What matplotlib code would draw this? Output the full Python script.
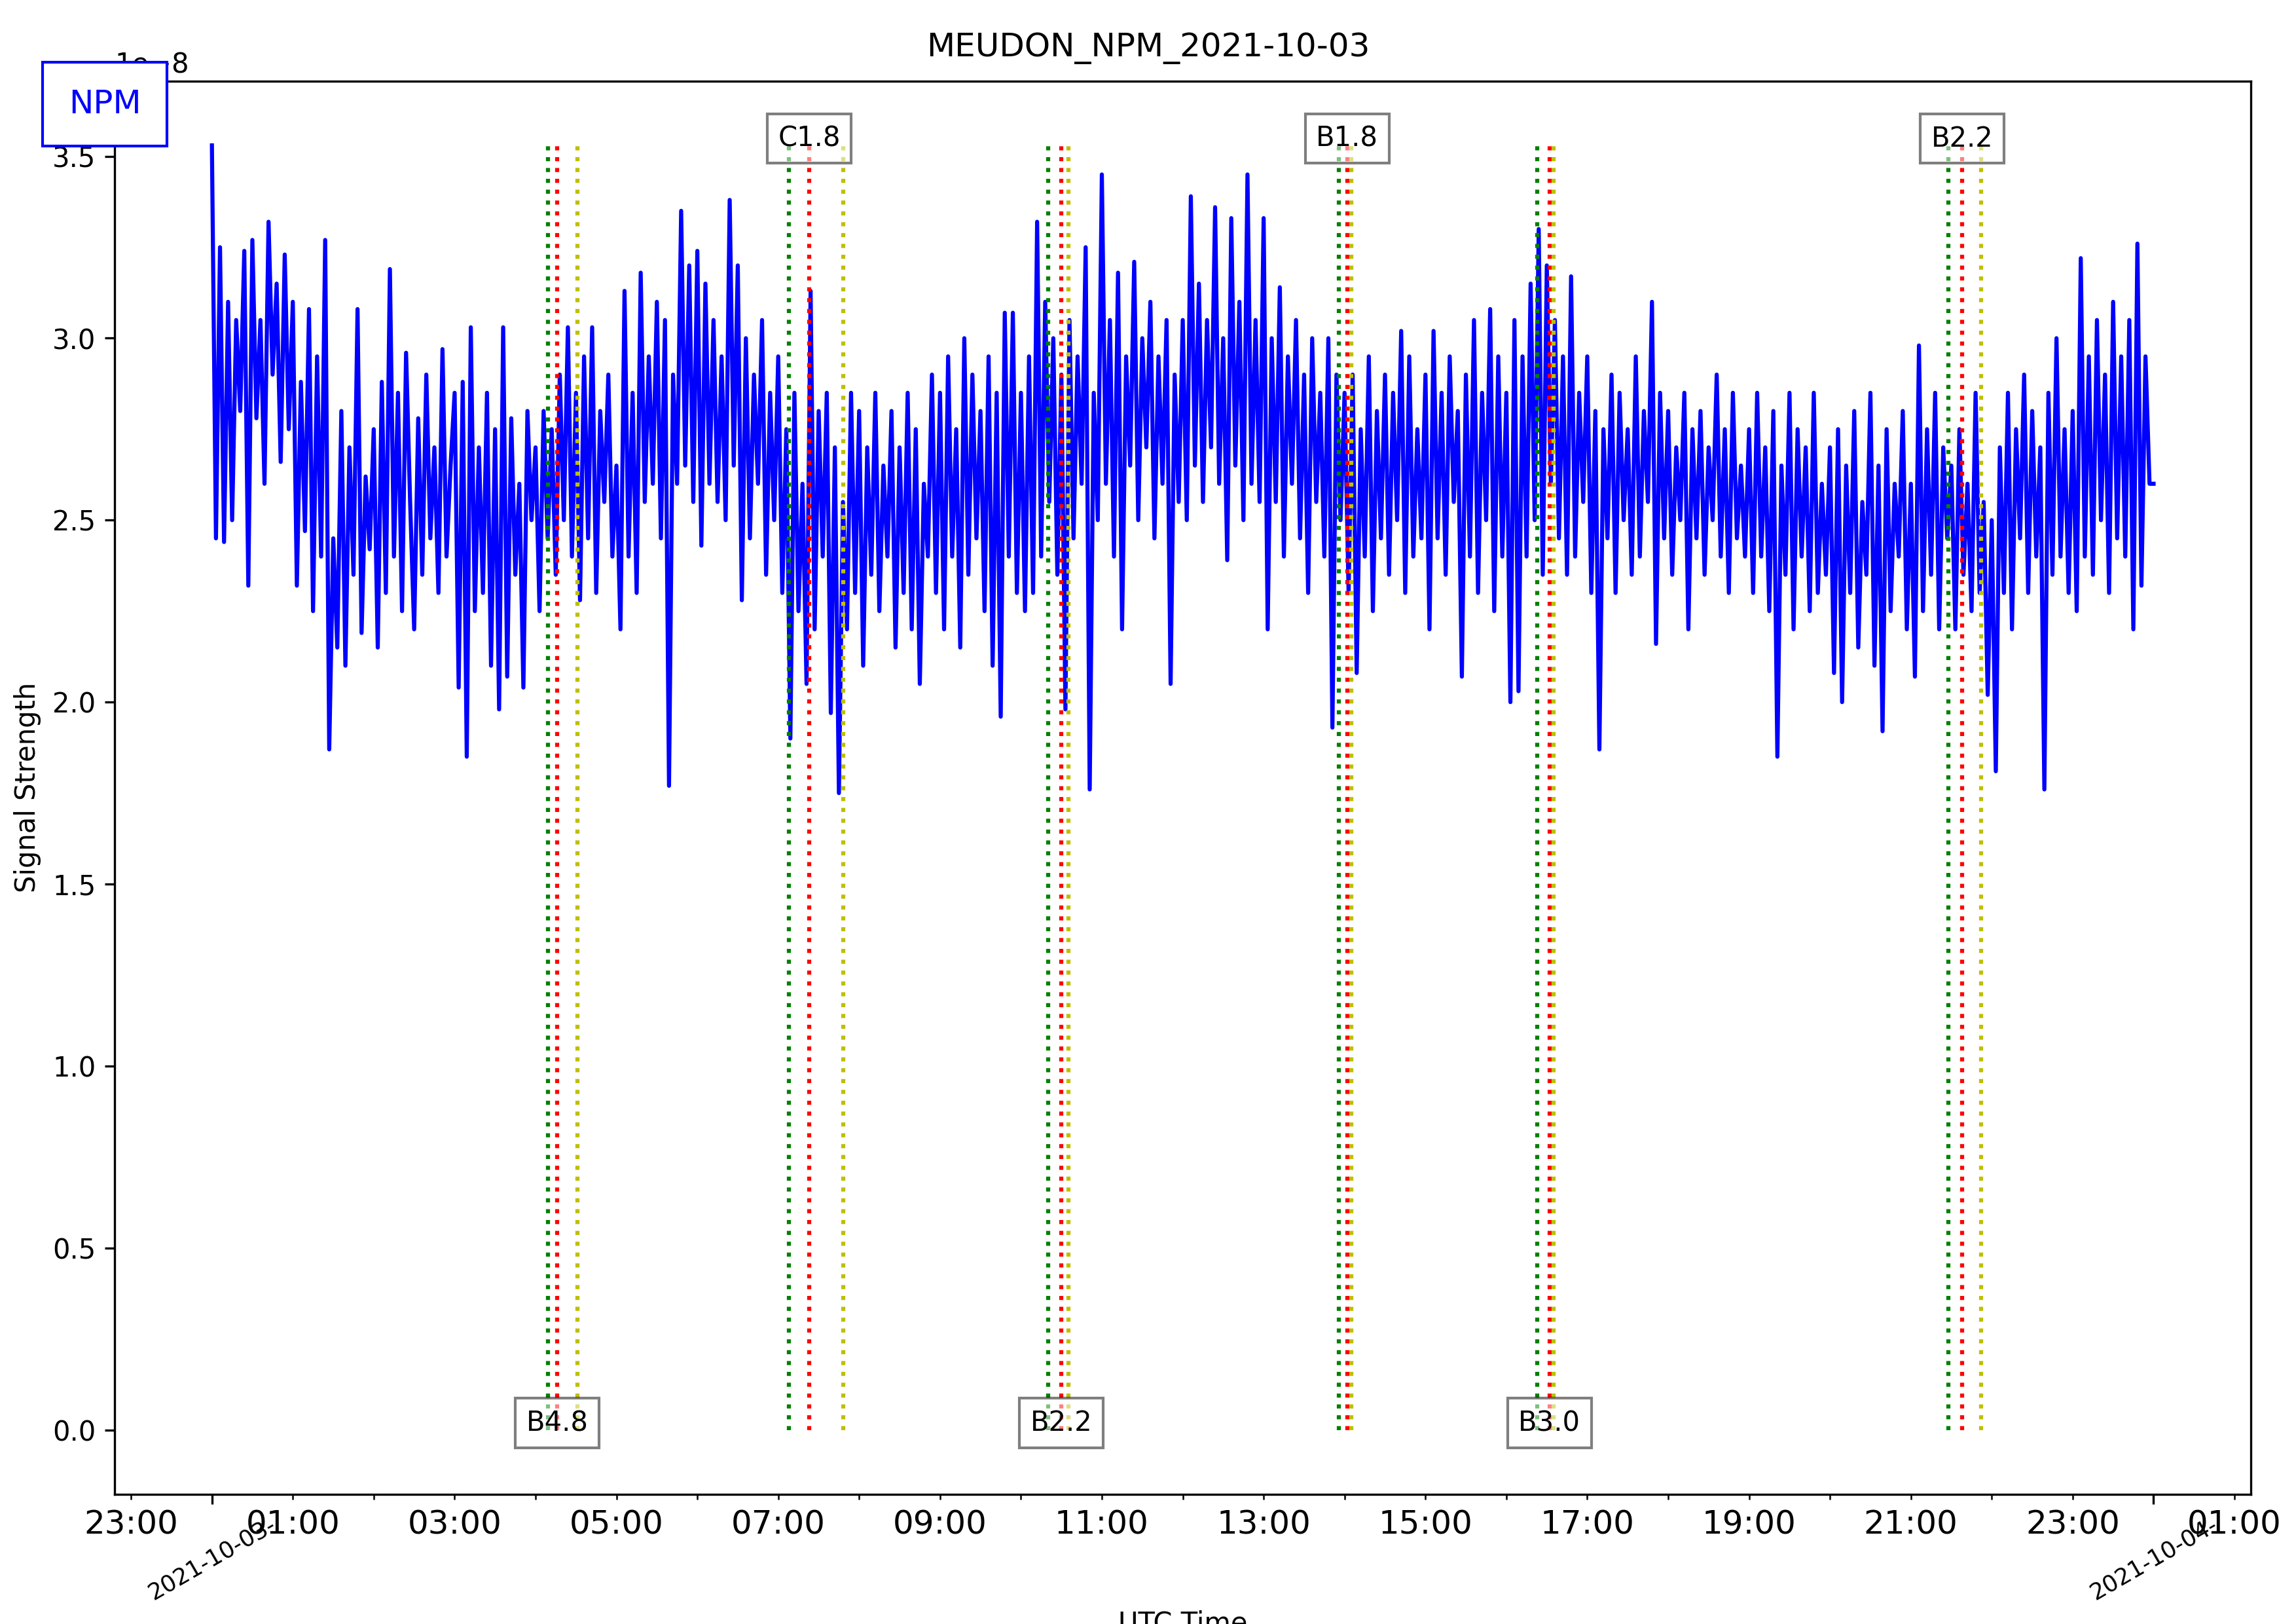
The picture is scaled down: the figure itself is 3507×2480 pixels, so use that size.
import datetime as dt
import matplotlib
matplotlib.use('Agg')
import matplotlib.pyplot as plt
import matplotlib.dates as mdates
from matplotlib.ticker import FuncFormatter

station = 'MEUDON'
transmitter = 'NPM'
day = dt.datetime(2021, 10, 3)
step_min = 3  # one value every 3 minutes

# signal strength (units of 1e-8), one row per hour
signal_rows = [
    [3.53, 2.45, 3.25, 2.44, 3.10, 2.50, 3.05, 2.80, 3.24, 2.32, 3.27, 2.78, 3.05, 2.60, 3.32, 2.90, 3.15, 2.66, 3.23, 2.75],
    [3.10, 2.32, 2.88, 2.47, 3.08, 2.25, 2.95, 2.40, 3.27, 1.87, 2.45, 2.15, 2.80, 2.10, 2.70, 2.35, 3.08, 2.19, 2.62, 2.42],
    [2.75, 2.15, 2.88, 2.30, 3.19, 2.40, 2.85, 2.25, 2.96, 2.55, 2.20, 2.78, 2.35, 2.90, 2.45, 2.70, 2.30, 2.97, 2.40, 2.65],
    [2.85, 2.04, 2.88, 1.85, 3.03, 2.25, 2.70, 2.30, 2.85, 2.10, 2.75, 1.98, 3.03, 2.07, 2.78, 2.35, 2.60, 2.04, 2.80, 2.50],
    [2.70, 2.25, 2.80, 2.45, 2.75, 2.35, 2.90, 2.50, 3.03, 2.40, 2.85, 2.28, 2.95, 2.45, 3.03, 2.30, 2.80, 2.55, 2.90, 2.40],
    [2.65, 2.20, 3.13, 2.40, 2.85, 2.30, 3.18, 2.55, 2.95, 2.60, 3.10, 2.45, 3.05, 1.77, 2.90, 2.60, 3.35, 2.65, 3.20, 2.55],
    [3.24, 2.43, 3.15, 2.60, 3.05, 2.55, 2.95, 2.50, 3.38, 2.65, 3.20, 2.28, 3.00, 2.45, 2.90, 2.60, 3.05, 2.35, 2.85, 2.50],
    [2.95, 2.30, 2.75, 1.90, 2.85, 2.25, 2.60, 2.05, 3.13, 2.20, 2.80, 2.40, 2.85, 1.97, 2.70, 1.75, 2.55, 2.20, 2.85, 2.30],
    [2.80, 2.10, 2.70, 2.35, 2.85, 2.25, 2.65, 2.40, 2.80, 2.15, 2.70, 2.30, 2.85, 2.20, 2.75, 2.05, 2.60, 2.40, 2.90, 2.30],
    [2.85, 2.20, 2.95, 2.40, 2.75, 2.15, 3.00, 2.35, 2.90, 2.45, 2.80, 2.25, 2.95, 2.10, 2.85, 1.96, 3.07, 2.40, 3.07, 2.30],
    [2.85, 2.25, 2.95, 2.30, 3.32, 2.40, 3.10, 2.55, 3.00, 2.35, 2.90, 1.98, 3.05, 2.45, 2.95, 2.60, 3.25, 1.76, 2.85, 2.50],
    [3.45, 2.60, 3.05, 2.40, 3.18, 2.20, 2.95, 2.65, 3.21, 2.50, 3.00, 2.70, 3.10, 2.45, 2.95, 2.60, 3.05, 2.05, 2.90, 2.55],
    [3.05, 2.50, 3.39, 2.65, 3.15, 2.55, 3.05, 2.70, 3.36, 2.60, 3.00, 2.39, 3.33, 2.65, 3.10, 2.50, 3.45, 2.60, 3.05, 2.55],
    [3.33, 2.20, 3.00, 2.55, 3.14, 2.40, 2.95, 2.60, 3.05, 2.45, 2.90, 2.30, 3.00, 2.55, 2.85, 2.40, 3.00, 1.93, 2.90, 2.50],
    [2.85, 2.30, 2.90, 2.08, 2.75, 2.40, 2.95, 2.25, 2.80, 2.45, 2.90, 2.35, 2.85, 2.50, 3.02, 2.30, 2.95, 2.40, 2.75, 2.45],
    [2.90, 2.20, 3.02, 2.45, 2.85, 2.35, 2.95, 2.55, 2.80, 2.07, 2.90, 2.40, 3.05, 2.30, 2.85, 2.50, 3.08, 2.25, 2.95, 2.40],
    [2.85, 2.00, 3.05, 2.03, 2.95, 2.40, 3.15, 2.50, 3.30, 2.35, 3.20, 2.60, 3.05, 2.45, 2.95, 2.35, 3.17, 2.40, 2.85, 2.55],
    [2.95, 2.30, 2.80, 1.87, 2.75, 2.45, 2.90, 2.30, 2.85, 2.50, 2.75, 2.35, 2.95, 2.40, 2.80, 2.55, 3.10, 2.16, 2.85, 2.45],
    [2.80, 2.35, 2.70, 2.50, 2.85, 2.20, 2.75, 2.45, 2.80, 2.35, 2.70, 2.50, 2.90, 2.40, 2.75, 2.30, 2.85, 2.45, 2.65, 2.40],
    [2.75, 2.30, 2.85, 2.40, 2.70, 2.25, 2.80, 1.85, 2.65, 2.35, 2.85, 2.20, 2.75, 2.40, 2.70, 2.25, 2.85, 2.30, 2.60, 2.35],
    [2.70, 2.08, 2.75, 2.00, 2.65, 2.30, 2.80, 2.15, 2.55, 2.35, 2.85, 2.10, 2.65, 1.92, 2.75, 2.25, 2.60, 2.40, 2.80, 2.20],
    [2.60, 2.07, 2.98, 2.25, 2.75, 2.35, 2.85, 2.20, 2.70, 2.45, 2.65, 2.20, 2.75, 2.35, 2.60, 2.25, 2.85, 2.30, 2.55, 2.02],
    [2.50, 1.81, 2.70, 2.30, 2.85, 2.20, 2.75, 2.45, 2.90, 2.30, 2.80, 2.40, 2.70, 1.76, 2.85, 2.35, 3.00, 2.40, 2.75, 2.30],
    [2.80, 2.25, 3.22, 2.40, 2.95, 2.35, 3.05, 2.50, 2.90, 2.30, 3.10, 2.45, 2.95, 2.40, 3.05, 2.20, 3.26, 2.32, 2.95, 2.60],
    [2.60],
]

# GOES flares of the day (start / peak / end, UTC)
flare_class = ['B4.8', 'C1.8', 'B2.2', 'B1.8', 'B3.0', 'B2.2']
flare_start = ['04:09', '07:08', '10:20', '13:56', '16:23', '21:28']
flare_peak = ['04:16', '07:23', '10:30', '14:02', '16:32', '21:38']
flare_end = ['04:31', '07:48', '10:35', '14:05', '16:35', '21:52']


def to_time(hhmm):
    h, m = hhmm.split(':')
    return day + dt.timedelta(hours=int(h), minutes=int(m))


def odd_hour_label(x, pos=None):
    t = mdates.num2date(x)
    if t.hour % 2 == 1:
        return t.strftime('%H:%M')
    return ''


signal = [v * 1e-8 for row in signal_rows for v in row]
times = [day + dt.timedelta(minutes=step_min * i) for i in range(len(signal))]
top = max(signal)

fig = plt.figure(figsize=(11.693, 8.267), dpi=300)
ax = fig.add_axes([0.05, 0.08, 0.93, 0.87])

ax.plot(times, signal, color='b', lw=1.5)

for i in range(len(flare_class)):
    ax.vlines(to_time(flare_start[i]), 0, top, colors='g', linestyles=':', lw=1.5)
    ax.vlines(to_time(flare_peak[i]), 0, top, colors='r', linestyles=':', lw=1.5)
    ax.vlines(to_time(flare_end[i]), 0, top, colors='y', linestyles=':', lw=1.5)
    # labels alternate bottom / top so they do not collide
    ylab = 0 if i % 2 == 0 else top
    ax.annotate(flare_class[i], (to_time(flare_peak[i]), ylab), xytext=(0, 2.5),
                textcoords='offset points', ha='center', va='center', fontsize=10,
                bbox=dict(facecolor='white', alpha=0.5))

ax.xaxis.set_major_locator(mdates.DayLocator())
ax.xaxis.set_major_formatter(mdates.DateFormatter('%Y-%m-%d-'))
ax.xaxis.set_minor_locator(mdates.HourLocator())
ax.xaxis.set_minor_formatter(FuncFormatter(odd_hour_label))
ax.tick_params(axis='x', which='major', labelsize=8.5, labelrotation=30)
ax.tick_params(axis='x', which='minor', labelsize=12)
ax.tick_params(axis='y', labelsize=10)

fig.suptitle(station + '_' + transmitter + '_' + day.strftime('%Y-%m-%d'), fontsize=12)
ax.set_ylabel('Signal Strength', fontsize=10)
ax.set_xlabel('UTC Time', fontsize=10, labelpad=2)

fig.text(0.0456, 0.936, transmitter, color='b', fontsize=12, ha='center', va='center',
         bbox=dict(boxstyle='square,pad=0.8', facecolor='white', edgecolor='b'))

fig.savefig('out.png', dpi=300)
